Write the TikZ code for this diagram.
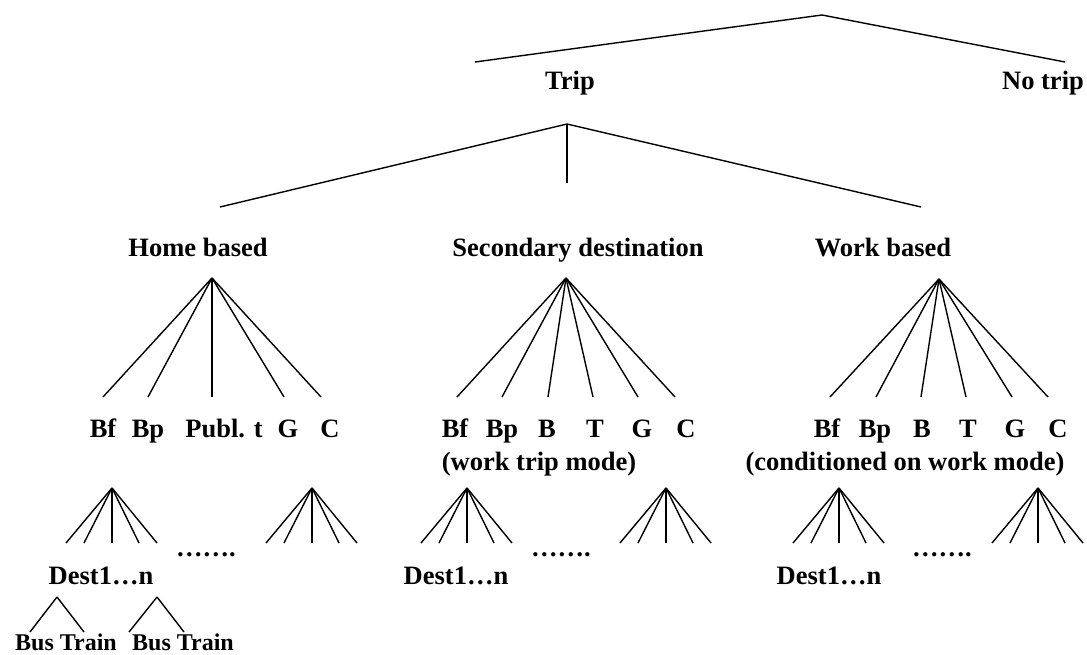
\documentclass[tikz,border=0pt]{standalone}
\usepackage{fontspec}
\setmainfont{Liberation Serif}
\begin{document}
\begin{tikzpicture}[x=1pt,y=-1pt,line width=1.4pt,
  lbl/.style={font=\fontsize{26.5}{30}\selectfont\bfseries,inner sep=0pt,anchor=base},
  sml/.style={font=\fontsize{24}{28}\selectfont\bfseries,inner sep=0pt,anchor=base}]
\useasboundingbox (0,0) rectangle (1087,655);
% top level
\coordinate (top) at (822,15);
\coordinate (tripend) at (475,62);
\coordinate (notripend) at (1065,62);
\node[lbl] (trip) at (570,90) {Trip};
\node[lbl] (notrip) at (1043,90) {No trip};
\draw (top) -- (tripend);
\draw (top) -- (notripend);
% trip fan
\coordinate (tripapex) at (567,124);
\coordinate (hbend) at (220,207);
\coordinate (secend) at (567,183);
\coordinate (wbend) at (921,207);
\draw (tripapex) -- (hbend);
\draw (tripapex) -- (secend);
\draw (tripapex) -- (wbend);
\node[lbl] (home) at (198,257) {Home based};
\node[lbl] (sec) at (578,257) {Secondary destination};
\node[lbl] (work) at (883,257) {Work based};
% home based modes
\coordinate (hapex) at (212,278);
\foreach \x [count=\i] in {103,148,212,284,321} {
  \coordinate (he\i) at (\x,397);
  \draw (hapex) -- (he\i);
}
\node[lbl] (hbf) at (103,437) {Bf};
\node[lbl] (hbp) at (148,437) {Bp};
\node[lbl] (hpt) at (224,437) {Publ. t};
\node[lbl] (hg) at (288,437) {G};
\node[lbl] (hc) at (330,437) {C};
% secondary destination modes
\coordinate (sapex) at (566,278);
\foreach \x [count=\i] in {457,502,548,593,638,675} {
  \coordinate (se\i) at (\x,397);
  \draw (sapex) -- (se\i);
}
\node[lbl] (sbf) at (455,437) {Bf};
\node[lbl] (sbp) at (502,437) {Bp};
\node[lbl] (sb) at (547,437) {B};
\node[lbl] (st) at (595,437) {T};
\node[lbl] (sg) at (642,437) {G};
\node[lbl] (sc) at (686,437) {C};
\node[lbl] (swm) at (539,470) {(work trip mode)};
% work based modes
\coordinate (wapex) at (939,279);
\foreach \x [count=\i] in {830,876,921,966,1012,1048} {
  \coordinate (we\i) at (\x,397);
  \draw (wapex) -- (we\i);
}
\node[lbl] (wbf) at (827,437) {Bf};
\node[lbl] (wbp) at (875,437) {Bp};
\node[lbl] (wb) at (922,437) {B};
\node[lbl] (wt) at (968,437) {T};
\node[lbl] (wg) at (1015,437) {G};
\node[lbl] (wc) at (1058,437) {C};
\node[lbl] (wcm) at (905,470) {(conditioned on work mode)};
% destination fans
\foreach \n/\ax in {hd1/112,hd2/312,sd1/467,sd2/666,wd1/839,wd2/1038} {
  \coordinate (\n) at (\ax,488);
  \foreach \dx [count=\j] in {-46,-28,0,27,45} {
    \coordinate (\n e\j) at (\ax+\dx,543);
    \draw (\n) -- (\n e\j);
  }
}
\node[lbl] (hdots) at (206,556) {……\kern0pt.};
\node[lbl] (sdots) at (561,556) {……\kern0pt.};
\node[lbl] (wdots) at (942,556) {……\kern0pt.};
\node[lbl] (hdest) at (101,584) {Dest1…n};
\node[lbl] (sdest) at (456,584) {Dest1…n};
\node[lbl] (wdest) at (829,584) {Dest1…n};
% bus / train
\coordinate (bt1apex) at (57,597);
\coordinate (bt1a) at (30,632);
\coordinate (bt1b) at (84,632);
\coordinate (bt2apex) at (157,597);
\coordinate (bt2a) at (129,632);
\coordinate (bt2b) at (184,632);
\draw (bt1apex) -- (bt1a);
\draw (bt1apex) -- (bt1b);
\draw (bt2apex) -- (bt2a);
\draw (bt2apex) -- (bt2b);
\node[sml] (bt1) at (66,650) {Bus Train};
\node[sml] (bt2) at (183,650) {Bus Train};
\end{tikzpicture}
\end{document}
